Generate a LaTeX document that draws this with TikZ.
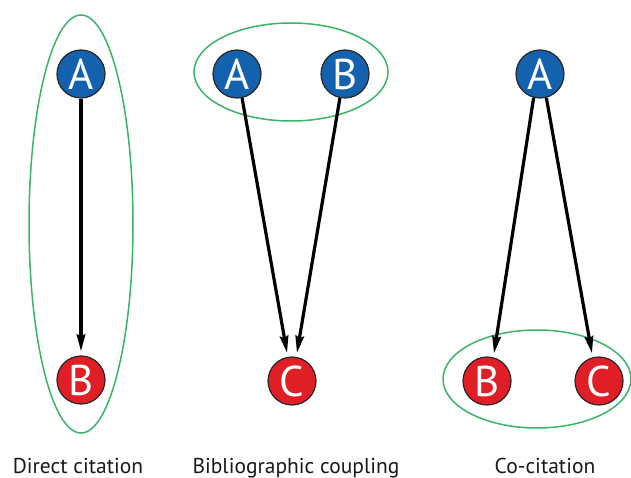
\documentclass[tikz,border=0pt]{standalone}
\usepackage{fontspec}
\setmainfont{PT Sans}
\usetikzlibrary{arrows.meta}
\definecolor{nodeblue}{HTML}{1462AE}
\definecolor{nodered}{HTML}{E01E26}
\definecolor{ringgreen}{HTML}{3BB36A}
\tikzset{
  paper/.style={circle, draw=black!85, line width=1.2pt, minimum size=48pt, inner sep=0pt,
    text=white, font=\fontsize{43}{43}\selectfont},
  bluepaper/.style={paper, fill=nodeblue},
  redpaper/.style={paper, fill=nodered},
  cite/.style={line width=3.2pt, -{Stealth[length=17pt,width=8.5pt,inset=2pt]}, shorten >=4pt},
  ring/.style={draw=ringgreen, line width=1.5pt},
  caption/.style={font=\fontsize{21.5}{24}\selectfont, text=black!90, inner sep=1pt, anchor=base}
}
\begin{document}
\begin{tikzpicture}[x=1pt,y=-1pt]
\useasboundingbox (0,0) rectangle (631,478);
% Direct citation
\draw[ring] (81,224) ellipse [x radius=52, y radius=209];
\node[bluepaper] (dA) at (81,74) {A};
\node[redpaper] (dB) at (81,380) {B};
\draw[cite] (dA) -- (dB);
% Bibliographic coupling
\draw[ring] (291,72) ellipse [x radius=97, y radius=49];
\node[bluepaper] (bA) at (237,74) {A};
\node[bluepaper] (bB) at (345,74) {B};
\node[redpaper] (bC) at (292,381) {C};
\draw[cite] (bA.-78) -- (bC.100);
\draw[cite] (bB.-102) -- (bC.80);
% Co-citation
\draw[ring] (537,379) ellipse [x radius=94, y radius=49];
\node[bluepaper] (cA) at (540,74) {A};
\node[redpaper] (cB) at (487,381) {B};
\node[redpaper] (cC) at (599,381) {C};
\draw[cite] (cA.-105) -- (cB.75);
\draw[cite] (cA.-75) -- (cC.105);
% captions
\node[caption] (l1) at (78,473) {Direct citation};
\node[caption] (l2) at (296,473) {Bibliographic coupling};
\node[caption] (l3) at (545,473) {Co-citation};
\end{tikzpicture}
\end{document}
